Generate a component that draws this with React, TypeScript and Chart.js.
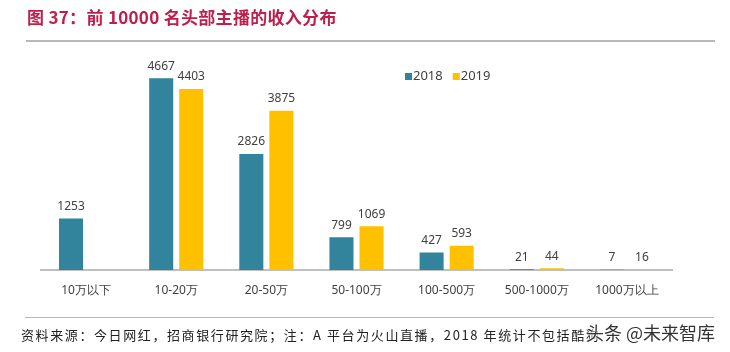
import React, { useEffect, useRef } from "react";
import { Chart, registerables } from "chart.js";

Chart.register(...registerables);

const categories = ["10万以下", "10-20万", "20-50万", "50-100万", "100-500万", "500-1000万", "1000万以上"];
const values2018 = [1253, 4667, 2826, 799, 427, 21, 7];
const values2019: (number | null)[] = [null, 4403, 3875, 1069, 593, 44, 16];
const seriesNames = ["2018", "2019"];
const seriesColors = ["#31849B", "#FFC000"];

const titleText = "图 37：前 10000 名头部主播的收入分布";
const footerText = "资料来源：今日网红，招商银行研究院；注：A 平台为火山直播，2018 年统计不包括酷狗";
const watermarkText = "头条 @未来智库";

const valueLabelPlugin = {
  id: "valueLabels",
  afterDatasetsDraw(chart: any) {
    const ctx = chart.ctx;
    ctx.save();
    ctx.font = "12px 'Noto Sans', sans-serif";
    ctx.fillStyle = "#404040";
    ctx.textAlign = "center";
    ctx.textBaseline = "bottom";
    chart.data.datasets.forEach((ds: any, i: number) => {
      const meta = chart.getDatasetMeta(i);
      meta.data.forEach((el: any, j: number) => {
        const v = ds.data[j];
        if (v === null || v === undefined) return;
        ctx.fillText(String(v), el.x, el.y - 6);
      });
    });
    ctx.restore();
  },
};

const customLegendPlugin = {
  id: "customLegend",
  afterDraw(chart: any) {
    const ctx = chart.ctx;
    ctx.save();
    ctx.font = "13px 'Noto Sans', sans-serif";
    ctx.textBaseline = "middle";
    ctx.textAlign = "left";
    let x = 405;
    const y = 76.5;
    chart.data.datasets.forEach((ds: any) => {
      ctx.fillStyle = ds.backgroundColor;
      ctx.fillRect(x, y - 3.5, 7, 7);
      ctx.fillStyle = "#404040";
      ctx.fillText(ds.label, x + 8, y);
      x += 8 + ctx.measureText(ds.label).width + 10;
    });
    ctx.restore();
  },
};

export default function App() {
  const canvasRef = useRef<HTMLCanvasElement | null>(null);

  useEffect(() => {
    if (!canvasRef.current) return;
    const chart = new Chart(canvasRef.current, {
      type: "bar",
      data: {
        labels: categories,
        datasets: [
          {
            label: seriesNames[0],
            data: values2018,
            backgroundColor: seriesColors[0],
            categoryPercentage: 0.667,
            barPercentage: 0.8,
          },
          {
            label: seriesNames[1],
            data: values2019,
            backgroundColor: seriesColors[1],
            categoryPercentage: 0.667,
            barPercentage: 0.8,
          },
        ],
      },
      options: {
        animation: false,
        responsive: false,
        maintainAspectRatio: false,
        layout: { padding: { left: 41, right: 58, top: 64.5, bottom: 41.5 } },
        plugins: {
          legend: { display: false },
          tooltip: { enabled: false },
        },
        scales: {
          x: {
            grid: { display: false, drawTicks: false },
            border: { display: true, color: "#BFBFBF", width: 2 },
            ticks: {
              padding: 13,
              color: "#404040",
              font: { size: 12, family: "'Noto Sans', sans-serif" },
              maxRotation: 0,
              autoSkip: false,
            },
          },
          y: {
            display: false,
            min: 0,
            max: 5000,
          },
        },
      },
      plugins: [valueLabelPlugin, customLegendPlugin],
    });
    return () => chart.destroy();
  }, []);

  return (
    <div
      style={{
        position: "absolute",
        left: 0,
        top: 0,
        width: 730,
        height: 352,
        background: "#fff",
        overflow: "hidden",
      }}
    >
      <canvas
        ref={canvasRef}
        width={730}
        height={352}
        style={{ position: "absolute", left: 0, top: 0, width: 730, height: 352 }}
      />
      <div
        style={{
          position: "absolute",
          left: 27,
          top: 6,
          height: 22,
          lineHeight: "22px",
          fontSize: 17,
          letterSpacing: "0.3px",
          fontWeight: 700,
          color: "#BE1E4B",
          fontFamily: "'Noto Sans CJK SC', sans-serif",
          whiteSpace: "nowrap",
        }}
      >
        {titleText}
      </div>
      <div
        style={{
          position: "absolute",
          left: 26,
          top: 40,
          width: 689,
          height: 2,
          background: "#B8B8B8",
        }}
      />
      <div
        style={{
          position: "absolute",
          left: 25,
          top: 316.5,
          width: 689,
          height: 1.5,
          background: "#B8B8B8",
        }}
      />
      <div
        style={{
          position: "absolute",
          left: 21,
          top: 327,
          height: 16,
          lineHeight: "16px",
          fontSize: 13,
          letterSpacing: "1.6px",
          color: "#222",
          fontFamily: "'Noto Sans CJK SC', sans-serif",
          whiteSpace: "nowrap",
        }}
      >
        {footerText}
      </div>
      <div
        style={{
          position: "absolute",
          left: 586,
          top: 321,
          height: 22,
          lineHeight: "22px",
          fontSize: 18,
          color: "#333",
          fontFamily: "'Noto Sans CJK SC', sans-serif",
          whiteSpace: "nowrap",
          textShadow: "0 0 2px #fff, 0 0 2px #fff, 0 0 3px #fff",
        }}
      >
        {watermarkText}
      </div>
    </div>
  );
}
